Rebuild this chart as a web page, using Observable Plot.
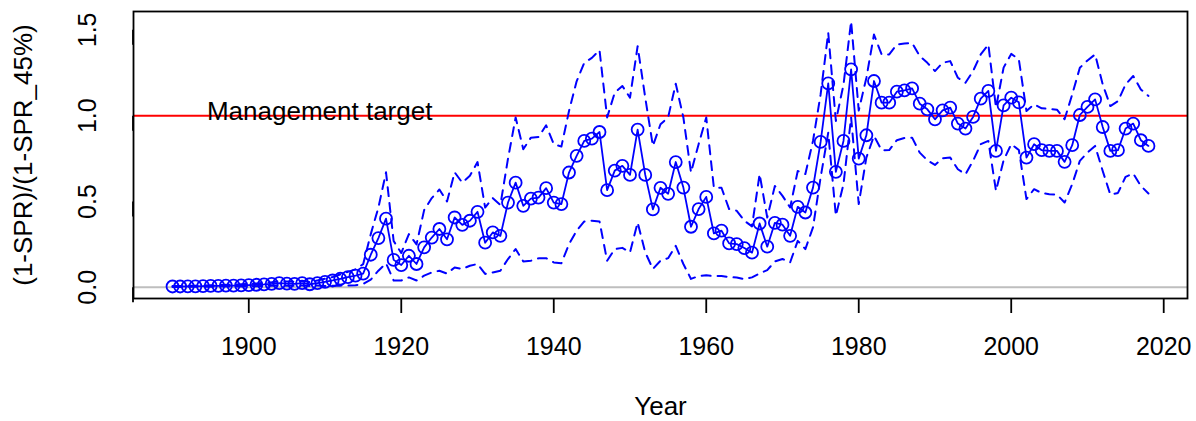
<!DOCTYPE html>
<html><head><meta charset="utf-8">
<script src="https://cdn.jsdelivr.net/npm/d3@7"></script>
<script src="https://cdn.jsdelivr.net/npm/@observablehq/plot@0.6"></script>
<style>html,body{margin:0;padding:0;background:#fff} svg{display:block}</style>
</head><body><div id="chart"></div>
<script>
const firstYear = 1890, lastYear = 2018;
const years = d3.range(firstYear, lastYear + 1);

const ratio = [
  0.005,0.005,0.006,0.006,0.007,0.008,0.009,0.010,0.010,0.011,
  0.013,0.015,0.017,0.020,0.024,0.022,0.020,0.024,0.018,0.025,
  0.032,0.040,0.050,0.060,0.068,0.080,0.190,0.287,0.400,0.160,
  0.130,0.184,0.136,0.233,0.290,0.340,0.280,0.407,0.364,0.388,
  0.440,0.260,0.320,0.300,0.494,0.610,0.475,0.517,0.523,0.578,
  0.494,0.485,0.669,0.766,0.853,0.866,0.905,0.566,0.680,0.708,
  0.655,0.919,0.655,0.454,0.580,0.545,0.730,0.581,0.353,0.456,
  0.527,0.314,0.330,0.256,0.252,0.229,0.202,0.372,0.237,0.376,
  0.365,0.300,0.469,0.436,0.581,0.847,1.188,0.673,0.853,1.270,
  0.750,0.886,1.202,1.076,1.076,1.140,1.147,1.159,1.070,1.037,
  0.979,1.031,1.047,0.954,0.925,0.993,1.099,1.144,0.795,1.060,
  1.105,1.078,0.756,0.834,0.799,0.795,0.795,0.731,0.828,1.004,
  1.051,1.095,0.934,0.795,0.799,0.925,0.954,0.857,0.824
];

const upper = [
  0.008,0.008,0.009,0.010,0.011,0.012,0.013,0.015,0.016,0.018,
  0.020,0.023,0.026,0.030,0.036,0.034,0.032,0.038,0.030,0.040,
  0.050,0.060,0.075,0.090,0.105,0.135,0.310,0.465,0.670,0.270,
  0.200,0.310,0.250,0.450,0.520,0.570,0.500,0.670,0.610,0.650,
  0.730,0.465,0.520,0.480,0.750,0.990,0.805,0.872,0.876,0.944,
  0.834,0.820,1.027,1.200,1.308,1.337,1.382,0.990,1.134,1.173,
  1.105,1.405,1.105,0.824,0.950,0.990,1.186,0.990,0.669,0.834,
  0.990,0.581,0.580,0.456,0.446,0.388,0.355,0.660,0.407,0.591,
  0.533,0.465,0.678,0.660,0.853,1.124,1.483,0.969,1.180,1.550,
  1.030,1.220,1.473,1.357,1.357,1.415,1.420,1.424,1.347,1.308,
  1.260,1.308,1.318,1.221,1.192,1.260,1.357,1.415,1.047,1.280,
  1.360,1.328,1.027,1.066,1.043,1.040,1.035,0.979,1.124,1.279,
  1.322,1.357,1.182,1.056,1.085,1.182,1.231,1.153,1.115
];

const lower = [
  0.002,0.002,0.003,0.003,0.003,0.004,0.004,0.005,0.005,0.005,
  0.006,0.007,0.008,0.009,0.011,0.010,0.009,0.011,0.008,0.011,
  0.008,0.009,0.010,0.011,0.012,0.020,0.045,0.097,0.140,0.040,
  0.040,0.058,0.040,0.068,0.087,0.097,0.080,0.116,0.107,0.126,
  0.136,0.078,0.087,0.097,0.165,0.223,0.151,0.155,0.169,0.170,
  0.145,0.140,0.252,0.330,0.384,0.388,0.384,0.155,0.223,0.230,
  0.204,0.378,0.204,0.107,0.155,0.170,0.242,0.136,0.049,0.066,
  0.070,0.065,0.066,0.060,0.057,0.047,0.058,0.081,0.100,0.151,
  0.165,0.145,0.271,0.223,0.349,0.640,0.901,0.417,0.601,0.990,
  0.485,0.756,0.882,0.799,0.800,0.857,0.870,0.872,0.785,0.740,
  0.713,0.752,0.756,0.688,0.659,0.737,0.834,0.853,0.562,0.740,
  0.834,0.800,0.514,0.572,0.549,0.543,0.540,0.494,0.601,0.737,
  0.785,0.824,0.678,0.540,0.550,0.644,0.663,0.591,0.547
];

const xTicks = [1900, 1920, 1940, 1960, 1980, 2000, 2020];
const yTicks = [0, 0.5, 1.0, 1.5];
const targetLevel = [1];
const zeroLevel = [0];
const annotationText = ["Management target"];
const annotationYear = [1909.3];
const xLabel = "Year";
const yLabel = "(1-SPR)/(1-SPR_45%)";

const rows = years.map((year, i) => ({year, ratio: ratio[i], upper: upper[i], lower: lower[i]}));
const annotations = annotationText.map((t, i) => ({text: t, year: annotationYear[i], value: targetLevel[i]}));

const blue = "#0000FF";
const chart = Plot.plot({
  width: 1196,
  height: 421,
  marginLeft: 133,
  marginRight: 9,
  marginTop: 11,
  marginBottom: 123,
  style: {fontFamily: "'Liberation Sans', Arial, sans-serif", fontSize: "25px", color: "black", background: "white"},
  x: {domain: [1884.88, 2023.12]},
  y: {domain: [-0.065, 1.607]},
  marks: [
    Plot.ruleY(zeroLevel, {stroke: "#BEBEBE", strokeWidth: 2}),
    Plot.ruleY(targetLevel, {stroke: "#FF0000", strokeWidth: 2}),
    Plot.line(rows, {x: "year", y: "upper", stroke: blue, strokeWidth: 2, strokeDasharray: "9,7"}),
    Plot.line(rows, {x: "year", y: "lower", stroke: blue, strokeWidth: 2, strokeDasharray: "9,7"}),
    Plot.line(rows, {x: "year", y: "ratio", stroke: blue, strokeWidth: 1.8}),
    Plot.dot(rows, {x: "year", y: "ratio", r: 6, stroke: blue, strokeWidth: 1.8, fill: "none"}),
    Plot.text(annotations, {x: "year", y: "value", text: "text", fontSize: 26, textAnchor: "middle", lineAnchor: "bottom", dy: 4, fill: "black"}),
    Plot.frame({stroke: "black", strokeWidth: 1.8}),
    Plot.axisX(xTicks, {anchor: "bottom", tickSize: 15, tickPadding: 24, fontSize: 25, strokeWidth: 1.8, tickFormat: d => String(d), label: null}),
    Plot.axisY(yTicks, {anchor: "left", tickSize: 15, tickPadding: 23, fontSize: 25, strokeWidth: 1.8, rotate: -90, textAnchor: "middle", lineAnchor: "bottom", tickFormat: d => d.toFixed(1), label: null}),
    Plot.text([xLabel], {frameAnchor: "bottom", textAnchor: "middle", dy: 116, lineAnchor: "bottom", fontSize: 26, fill: "black"}),
    Plot.text([yLabel], {frameAnchor: "left", textAnchor: "middle", dx: -101.5, rotate: -90, lineAnchor: "bottom", fontSize: 26, fill: "black"})
  ]
});
document.getElementById("chart").appendChild(chart);
</script>
</body></html>
